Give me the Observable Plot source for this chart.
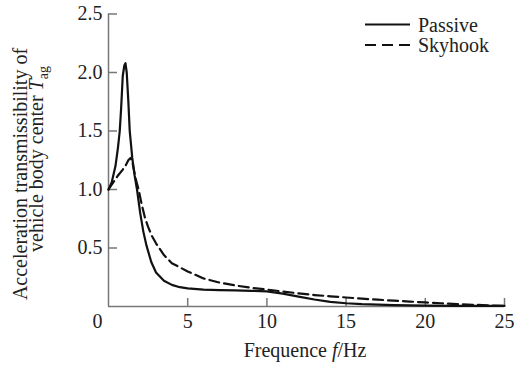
<!DOCTYPE html>
<html><head><meta charset="utf-8">
<script src="https://cdn.jsdelivr.net/npm/d3@7"></script>
<script src="https://cdn.jsdelivr.net/npm/@observablehq/plot@0.6"></script>
<style>
body{margin:0;background:#fff;}
#chart{position:relative;width:520px;height:371px;overflow:hidden;background:#fff;}
</style>
</head><body><div id="chart"></div>
<script>
// ---- data ----
const passiveF = [0, 0.2, 0.44, 0.6, 0.71, 0.8, 0.9, 1.0, 1.07, 1.15, 1.25, 1.34, 1.5, 1.65, 1.8, 2.0, 2.2, 2.4, 2.7, 3.0, 3.5, 4.0, 4.5, 5.0, 6.0, 7.0, 8.0, 9.0, 10.0, 11.0, 12.0, 13.0, 14.0, 15.0, 16.0, 18.0, 20.0, 22.0, 25.0];
const passiveT = [1.0, 1.06, 1.2, 1.36, 1.5, 1.7, 1.97, 2.06, 2.08, 2.0, 1.76, 1.5, 1.27, 1.12, 1.0, 0.8, 0.64, 0.52, 0.38, 0.29, 0.22, 0.185, 0.165, 0.155, 0.145, 0.14, 0.137, 0.134, 0.13, 0.11, 0.085, 0.06, 0.04, 0.028, 0.02, 0.012, 0.008, 0.006, 0.005];
const skyhookF = [0, 0.3, 0.6, 0.9, 1.1, 1.25, 1.39, 1.5, 1.7, 1.9, 2.1, 2.3, 2.5, 2.75, 3.0, 3.25, 3.5, 4.0, 5.0, 6.0, 7.0, 8.0, 9.0, 10.0, 11.0, 12.0, 13.0, 14.0, 15.0, 16.0, 17.0, 18.0, 19.0, 20.0, 21.0, 22.0, 23.0, 24.0, 25.0];
const skyhookT = [1.0, 1.06, 1.12, 1.17, 1.21, 1.25, 1.27, 1.24, 1.1, 1.0, 0.87, 0.76, 0.68, 0.6, 0.54, 0.49, 0.44, 0.37, 0.3, 0.24, 0.205, 0.18, 0.16, 0.145, 0.128, 0.112, 0.098, 0.087, 0.077, 0.067, 0.058, 0.05, 0.042, 0.035, 0.028, 0.021, 0.015, 0.009, 0.005];
const seriesNames = ["Passive", "Skyhook"];
const xTicks = [0, 5, 10, 15, 20, 25];
const yTicks = [0.5, 1.0, 1.5, 2.0, 2.5];
const xTitle = ["Frequence ", "f", "/Hz"];
const yTitle1 = "Acceleration transmissibility of";
const yTitle2 = ["vehicle body center ", "T", "ag"];

// ---- layout ----
const W = 520, H = 371, mL = 108, mR = 16, mT = 13.5, mB = 65;
const frameW = W - mL - mR, frameH = H - mT - mB;
const FONT = "'Liberation Serif','Times New Roman',serif";
const AX = "#777", TXT = "#222";

const passive = passiveF.map((f, i) => ({f, t: passiveT[i]}));
const skyhook = skyhookF.map((f, i) => ({f, t: skyhookT[i]}));

const plot = Plot.plot({
  width: W, height: H,
  marginLeft: mL, marginRight: mR, marginTop: mT, marginBottom: mB,
  style: {fontFamily: FONT, background: "white", overflow: "visible"},
  x: {domain: [0, 25], axis: null},
  y: {domain: [0, 2.5], axis: null},
  marks: [
    Plot.ruleX(xTicks.filter(d => d > 0), {x: d => d, insetTop: frameH - 8, stroke: AX, strokeWidth: 1.5}),
    Plot.ruleY(yTicks, {y: d => d, insetRight: frameW - 9, stroke: AX, strokeWidth: 1.5}),
    Plot.ruleX([0], {stroke: AX, strokeWidth: 1.5}),
    Plot.ruleY([0], {stroke: AX, strokeWidth: 1.5}),
    Plot.line(passive, {x: "f", y: "t", stroke: "#111", strokeWidth: 2.2, curve: "linear"}),
    Plot.line(skyhook, {x: "f", y: "t", stroke: "#111", strokeWidth: 2.2, strokeDasharray: "10,5", curve: "linear"}),
    Plot.text(xTicks.filter(d => d > 0), {x: d => d, y: 0, dy: 15, text: d => String(d), fontSize: 20, fill: TXT}),
    Plot.text(xTicks.filter(d => d === 0), {x: d => d, y: 0, dy: 15, dx: -11, text: d => String(d), fontSize: 20, fill: TXT}),
    Plot.text(yTicks, {x: 0, y: d => d, dx: -6, textAnchor: "end", text: d => d.toFixed(1), fontSize: 20, fill: TXT})
  ]
});

const svg = d3.select(plot);
const addText = (sel) => sel.append("text").attr("font-family", FONT).attr("font-size", 20).attr("fill", TXT);

// x title
const xt = addText(svg).attr("x", 305).attr("y", 357).attr("text-anchor", "middle");
xt.append("tspan").text(xTitle[0]);
xt.append("tspan").attr("font-style", "italic").text(xTitle[1]);
xt.append("tspan").text(xTitle[2]);

// y title (two lines)
addText(svg).attr("transform", "translate(27,174) rotate(-90)").attr("text-anchor", "middle").text(yTitle1);
const yt2 = addText(svg).attr("transform", "translate(43,159) rotate(-90)").attr("text-anchor", "middle");
yt2.append("tspan").text(yTitle2[0]);
yt2.append("tspan").attr("font-style", "italic").text(yTitle2[1]);
yt2.append("tspan").attr("font-size", 14).attr("dy", 5).text(yTitle2[2]);

// legend
const leg = svg.append("g");
const dashes = [null, "11,6"];
seriesNames.forEach((name, i) => {
  const y = 24.5 + i * 20.5;
  leg.append("line").attr("x1", 365).attr("x2", 410).attr("y1", y).attr("y2", y)
    .attr("stroke", "#111").attr("stroke-width", 2.2).attr("stroke-dasharray", dashes[i]);
  addText(leg).attr("x", 418).attr("y", y + 7).attr("text-anchor", "start").text(name);
});

document.getElementById("chart").appendChild(plot);
</script>
</body></html>
